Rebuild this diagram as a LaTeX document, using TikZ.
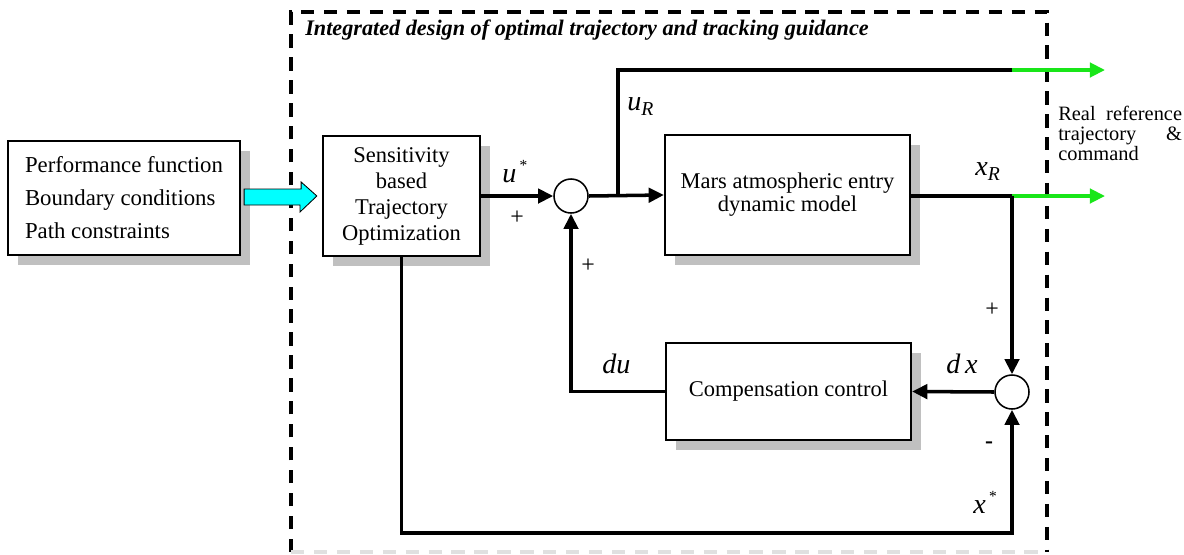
\documentclass[tikz,border=0pt]{standalone}
\usepackage{fontspec}
\setmainfont{Liberation Serif}
\usetikzlibrary{arrows.meta,calc,positioning,shadows}
\definecolor{feedcyan}{RGB}{0,255,255}
\definecolor{refgreen}{RGB}{25,230,25}
\definecolor{shadowgray}{RGB}{192,192,192}
\newcommand{\supstar}{\raisebox{8.5pt}{\fontsize{11}{11}\selectfont\,*}}
\newcommand{\subR}{\raisebox{-4pt}{\fontsize{14}{14}\selectfont R}}

\begin{document}
\begin{tikzpicture}[x=0.025cm,y=-0.025cm,>={Triangle[length=0.38cm,width=0.36cm]},
  block/.style={draw,fill=white,line width=1.6pt,inner sep=0pt,
    general shadow={fill=shadowgray,shadow xshift=0.25cm,shadow yshift=-0.25cm}},
  junction/.style={draw,circle,fill=white,line width=1.1pt,minimum size=0.85cm,inner sep=0pt},
  sig/.style={line width=2.5pt},
  outsig/.style={line width=2.5pt,refgreen},
  lbl/.style={font=\fontsize{20}{20}\selectfont\itshape,inner sep=0pt,anchor=base west},
  sgn/.style={font=\fontsize{17}{17}\selectfont,inner sep=0pt}]
  \useasboundingbox (0,0) rectangle (1184,554);

  % outer frame
  \draw[line width=2.8pt,dash pattern=on 9.5pt off 6.8pt] (291,552) -- (291,12) -- (1047,12) -- (1047,552);
  \draw[line width=2.8pt,dash pattern=on 9.5pt off 6.8pt,black!12] (291,552) -- (1047,552);
  \node[anchor=west,inner sep=0pt,font=\fontsize{15.8}{16}\selectfont\bfseries\itshape] (title) at (305,30)
    {Integrated design of optimal trajectory and tracking guidance};

  % blocks
  \node[block,minimum width=5.8cm,minimum height=2.85cm,align=left,
    font=\fontsize{16.2}{23.5}\selectfont] (inp) at (124,198)
    {Performance function\\Boundary conditions\\Path constraints};
  \node[block,minimum width=3.925cm,minimum height=3cm,align=center,
    font=\fontsize{16}{18.5}\selectfont] (sens) at (401.5,196)
    {Sensitivity\\based\\Trajectory\\Optimization};
  \node[block,minimum width=6.125cm,minimum height=3cm,align=center,
    font=\fontsize{16}{16.4}\selectfont] (mars) at (787.5,195)
    {Mars atmospheric entry\\dynamic model};
  \node[block,minimum width=6.125cm,minimum height=2.425cm,
    font=\fontsize{16}{16}\selectfont] (comp) at (788.5,391.5) {Compensation control};
  \node[junction] (sum1) at (571,196) {};
  \node[junction] (sum2) at (1012,392) {};

  % feed arrow
  \coordinate (fa) at ($(inp.east)+(3,-1)$);
  \draw[fill=feedcyan,line width=0.6pt] (fa) ++(0,-8) -- ++(57,0) -- ++(0,-7) -- ($(sens.west)+(-5,0)$)
    -- (300,212) -- (300,205) -- ($(fa)+(0,8)$) -- cycle;

  % signals
  \coordinate (br) at (618,196);
  \coordinate (uend) at (1012,70);
  \coordinate (utip) at (1105,70);
  \coordinate (xend) at (1012,196);
  \coordinate (xtip) at (1105,196);
  \draw[sig,->] (sens.east) -- (sum1.west);
  \draw[sig,->] (sum1.east) -- (mars.west);
  \draw[sig] (br) |- (uend);
  \draw[outsig,->] (uend) -- (utip);
  \draw[sig] (mars.east |- xend) -- (xend);
  \draw[outsig,->] (xend) -- (xtip);
  \draw[sig,->] (xend) -- (sum2.north);
  \draw[sig,->] (sum2.west) -- (comp.east);
  \draw[sig,->] (comp.west) -| (sum1.south);
  \draw[sig,->] (sens.south) -- ++(0,276) -| (sum2.south);

  % labels
  \node[lbl] (ustar) at (502,182) {u\supstar};
  \node[lbl] (uref) at (627,110) {u\subR};
  \node[lbl] (xref) at (975,175) {x\subR};
  \node[lbl] (xstar) at (973,513) {x\supstar};
  \node[lbl] (du) at (602,373) {du};
  \node[lbl] (dx) at (946,373) {d\,x};
  \node[sgn] (p1) at (517,218) {+};
  \node[sgn] (p2) at (588,266) {+};
  \node[sgn] (p3) at (992,310) {+};
  \node[sgn,font=\fontsize{17}{17}\selectfont\bfseries] (m1) at (989,445) {-};
  \node[anchor=north west,inner sep=0pt] (realref) at (1058,106)
    {\parbox{88pt}{\fontsize{14.5}{14.3}\selectfont Real\hfill reference\\trajectory\hfill\&\\command}};
\end{tikzpicture}
\end{document}
